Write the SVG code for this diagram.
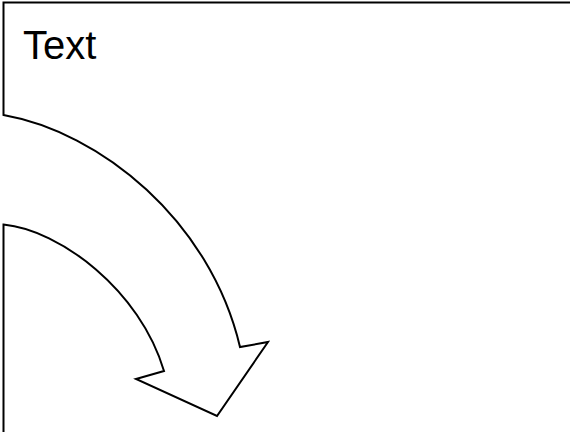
<svg xmlns="http://www.w3.org/2000/svg" width="570" height="432" viewBox="0 0 570 432">
<style>
.shape{fill:#fff;stroke:#000;stroke-width:2;stroke-linejoin:miter}
.lbl{font-family:"Liberation Sans",Arial,sans-serif;font-size:40px;fill:#000}
</style>
<rect width="570" height="432" fill="#fff"/>
<g id="arrowShape">
<path class="shape" d="M3.5,440 V224.5 C60,230 140,290 164,371 L136,379 L217,416 L268,342 L240,347 C210,220 100,132 3.5,115 V2.5 H580"/>
<text class="lbl" x="23" y="59">Text</text>
</g>
</svg>
